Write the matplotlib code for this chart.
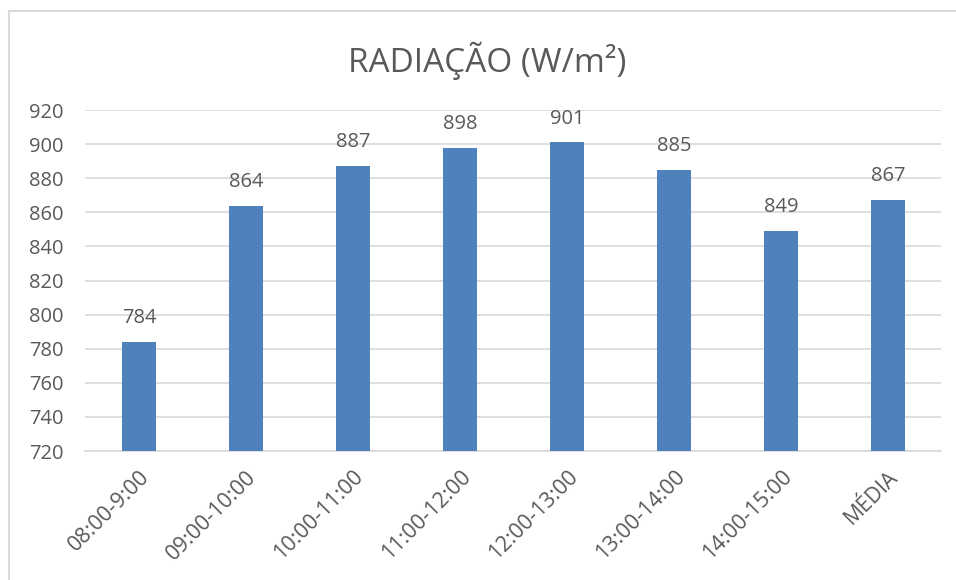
import matplotlib.pyplot as plt
from matplotlib.patches import Rectangle

plt.rcParams['font.family'] = ['Open Sans', 'DejaVu Sans']

# radiação média por faixa horária
faixas = ["08:00-9:00", "09:00-10:00", "10:00-11:00", "11:00-12:00",
          "12:00-13:00", "13:00-14:00", "14:00-15:00", "MÉDIA"]
radiacao = [784, 864, 887, 898, 901, 885, 849, 867]

cinza = "#595959"
azul = "#4F81BD"

fig = plt.figure(figsize=(9.56, 5.8), dpi=100)
ax = fig.add_axes([0.0894, 0.2224, 0.8954, 0.5879])

x = list(range(len(faixas)))
ax.bar(x, radiacao, width=0.32, color=azul, zorder=3)

for xi, v in zip(x, radiacao):
    ax.annotate(str(v), (xi, v), xytext=(0, 10), textcoords="offset points",
                ha="center", va="bottom", fontsize=14.5, color=cinza)

ax.set_xlim(-0.5, len(faixas) - 0.5)
ax.set_ylim(720, 920)
ax.set_yticks(range(720, 921, 20))
ax.set_xticks(x)
ax.set_xticklabels(faixas, rotation=45, ha="right", rotation_mode="anchor")
ax.tick_params(axis="y", length=0, labelsize=14.5, labelcolor=cinza, pad=16)
ax.tick_params(axis="x", length=0, labelsize=15.5, labelcolor=cinza, pad=11)

ax.grid(axis="y", color="#D9D9D9", linewidth=1.2, zorder=0)
for lado in ["top", "right", "left"]:
    ax.spines[lado].set_visible(False)
ax.spines["bottom"].set_color("#D9D9D9")
ax.spines["bottom"].set_linewidth(1.2)

fig.text(0.51, 0.895, "RADIAÇÃO (W/m²)", ha="center", va="center",
         fontsize=24, color=cinza)

# moldura do gráfico (só as bordas de cima e da esquerda aparecem)
fig.patches.append(Rectangle((0.0094, -0.1), 1.2, 1.081, transform=fig.transFigure,
                             fill=False, edgecolor="#D9D9D9", linewidth=1.5))

fig.savefig("out.png", dpi=100)
